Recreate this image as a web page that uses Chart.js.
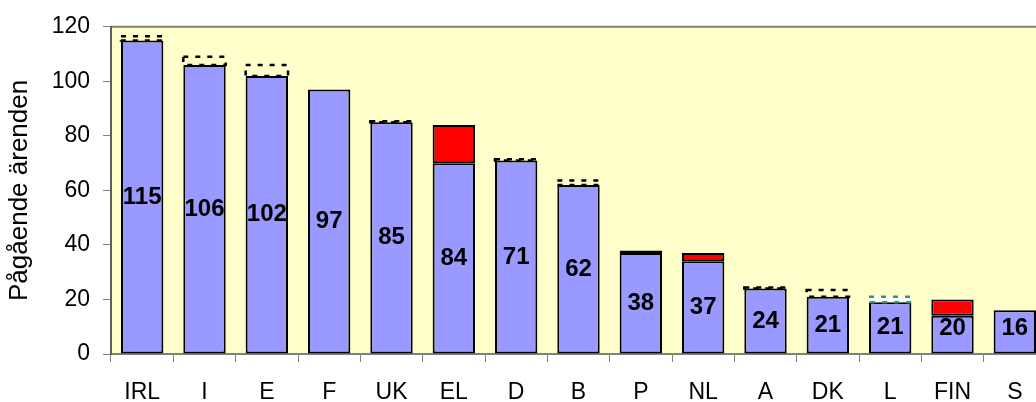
<!DOCTYPE html>
<html>
<head>
<meta charset="utf-8">
<script src="https://cdn.jsdelivr.net/npm/chart.js@4"></script>
<style>
  html, body { margin: 0; padding: 0; overflow: hidden; background: #fff; }
  #wrap { width: 1046px; height: 402px; }
</style>
</head>
<body>
<div id="wrap"><canvas id="chart" width="1046" height="402"></canvas></div>
<script>
const countries = ["IRL", "I", "E", "F", "UK", "EL", "D", "B", "P", "NL", "A", "DK", "L", "FIN", "S"];
const baseCases = [115, 106, 102, 97, 85, 70, 71, 62, 37, 34, 24, 21, 19, 14, 16];
const redCases = [null, null, null, null, null, 14, null, null, 1, 3, null, null, null, 6, null];
const greenCases = [null, null, null, null, null, null, null, null, null, null, null, null, 2, null, null];
const dashedCases = [1.5, 3, 4, null, 0.4, null, 0.4, 1.6, null, null, 0.4, 2.5, null, null, null];
const yTicks = [0, 20, 40, 60, 80, 100, 120];

const FONT = "'Liberation Sans', Arial, sans-serif";

// yellow plot area + grey top edge
const plotBg = {
  id: "plotBg",
  beforeDraw(chart) {
    const { ctx, chartArea: a } = chart;
    ctx.save();
    ctx.fillStyle = "#FFFFCC";
    ctx.fillRect(a.left, a.top, a.right - a.left, a.bottom - a.top);
    ctx.strokeStyle = "#808080";
    ctx.lineWidth = 2;
    ctx.beginPath();
    ctx.moveTo(a.left, a.top);
    ctx.lineTo(a.right, a.top);
    ctx.stroke();
    ctx.restore();
  }
};

// bars have no dashed border option, so stroke those segments here
const dashedBoxes = {
  id: "dashedBoxes",
  afterDatasetsDraw(chart) {
    const ctx = chart.ctx;
    chart.data.datasets.forEach((ds, i) => {
      if (!ds.dash) return;
      chart.getDatasetMeta(i).data.forEach((bar, j) => {
        if (ds.data[j] == null) return;
        const { x, y, base, width } = bar.getProps(["x", "y", "base", "width"], true);
        ctx.save();
        ctx.setLineDash([5, 7]);
        ctx.lineWidth = 2.5;
        ctx.strokeStyle = ds.dash;
        ctx.strokeRect(x - width / 2, y, width, base - y);
        ctx.restore();
      });
    });
  }
};

// totals written inside the blue bar
const totalLabels = {
  id: "totalLabels",
  afterDatasetsDraw(chart) {
    const ctx = chart.ctx;
    ctx.save();
    ctx.font = "bold 24px " + FONT;
    ctx.fillStyle = "#000";
    ctx.textAlign = "center";
    ctx.textBaseline = "middle";
    chart.getDatasetMeta(0).data.forEach((bar, j) => {
      const total = baseCases[j] + (redCases[j] || 0) + (greenCases[j] || 0);
      const { x, y, base } = bar.getProps(["x", "y", "base"], true);
      ctx.fillText(String(total), x, Math.min((y + base) / 2, 328));
    });
    ctx.restore();
  }
};

const common = { barPercentage: 0.68, categoryPercentage: 1.0, borderSkipped: false };

new Chart(document.getElementById("chart"), {
  type: "bar",
  data: {
    labels: countries,
    datasets: [
      { ...common, data: baseCases, backgroundColor: "#9999FF", borderColor: "#000", borderWidth: 2 },
      { ...common, data: redCases, backgroundColor: "#FF0000", borderColor: "#000", borderWidth: 2 },
      { ...common, data: greenCases, backgroundColor: "#FFFFFF", borderWidth: 0, dash: "#339966" },
      { ...common, data: dashedCases, backgroundColor: "rgba(0,0,0,0)", borderWidth: 0, dash: "#000" }
    ]
  },
  options: {
    responsive: false,
    animation: false,
    layout: { padding: { top: 24, right: 0, left: 0, bottom: 0 } },
    plugins: { legend: { display: false }, tooltip: { enabled: false } },
    scales: {
      x: {
        stacked: true,
        grid: { offset: true, drawOnChartArea: false, tickLength: 8, color: "#808080" },
        border: { color: "#808080", width: 2 },
        ticks: { color: "#000", font: { family: FONT, size: 23 }, padding: 17, maxRotation: 0, autoSkip: false },
        afterFit(s) { s.height = 48; }
      },
      y: {
        stacked: true,
        min: 0,
        max: 120,
        afterBuildTicks(s) { s.ticks = yTicks.map(v => ({ value: v })); },
        grid: { drawOnChartArea: false, tickLength: 8, color: "#808080" },
        border: { color: "#606060", width: 2 },
        ticks: { color: "#000", font: { family: FONT, size: 23 }, padding: 13 },
        title: { display: true, text: "Pågående ärenden", color: "#000", font: { family: FONT, size: 26 }, padding: { top: 4, bottom: 0 } },
        afterFit(s) { s.width = 111; }
      }
    }
  },
  plugins: [plotBg, dashedBoxes, totalLabels]
});
</script>
</body>
</html>
